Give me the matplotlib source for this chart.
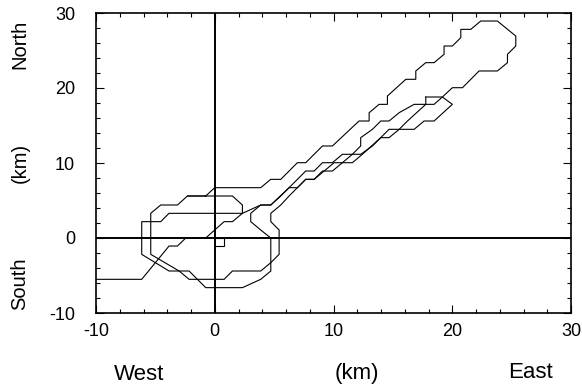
import matplotlib
matplotlib.use("Agg")
import matplotlib.pyplot as plt
from matplotlib.ticker import MultipleLocator

plt.rcParams['axes.unicode_minus'] = False

# ---- data (km) ----
# big contour: upper arm edge, tip, and lower arm edge down into the blob
c1_x = [-0.76, 0.0, 3.87, 4.71, 5.56, 6.96, 7.66, 9.07, 9.91, 12.15, 13.0, 13.0, 13.84, 14.54, 14.54,
        16.09, 16.93, 16.93, 17.77, 18.47, 19.31, 19.31, 20.01, 20.72, 20.72, 21.56, 22.4, 23.8,
        25.35, 25.35, 24.65, 24.65, 23.8, 22.26, 20.86, 20.01, 19.17,
        18.47, 16.79, 15.53, 14.68, 13.98, 13.28, 12.29, 12.29, 11.59, 10.75, 9.91, 9.07, 8.37,
        7.66, 6.96, 6.26, 5.56, 4.72, 3.87, 3.03, 3.03, 3.87, 4.72, 4.72, 3.87, 1.49, 0.79,
        -1.46, -2.16, -3.0, -5.39, -5.39, -4.55, -4.55, -3.14, -2.3, -0.76]
c1_y = [5.6, 6.71, 6.71, 7.82, 7.82, 10.04, 10.04, 12.27, 12.27, 15.6, 15.6, 16.7, 17.82, 17.82, 18.93,
        21.16, 21.16, 22.27, 23.38, 23.38, 24.49, 25.6, 25.6, 26.71, 27.82, 27.82, 28.93, 28.93,
        26.93, 25.6, 24.49, 23.38, 22.27, 22.27, 20.04, 20.04, 18.8,
        17.82, 17.82, 16.71, 15.6, 15.6, 14.49, 13.38, 12.27, 11.16, 11.16, 10.04, 10.04, 8.93,
        8.93, 7.82, 6.71, 5.6, 4.4, 4.4, 3.29, 2.18, 1.07, 0.0, -3.29, -4.4, -4.4, -5.51,
        -5.51, -4.4, -4.4, -2.18, 3.29, 4.4, 4.4, 4.4, 5.6, 5.6]

# medium contour: small tip box, lower arm edge and the outer blob ring
c2_x = [17.77, 19.17, 20.01, 18.47, 17.63, 16.79, 15.53, 14.68, 13.98, 12.43, 11.59, 10.75, 9.91,
        9.07, 8.37, 7.66, 6.96, 6.26, 5.56, 4.72, 4.72, 5.42, 5.42, 4.72, 4.72, 3.87, 2.33,
        -0.76, -1.46, -2.16, -3.0, -3.85, -6.15, -6.15, -4.55, -3.85, 2.33, 2.33, 1.49, -2.3]
c2_y = [18.8, 18.8, 17.82, 15.6, 15.6, 14.49, 14.49, 13.38, 13.38, 11.16, 10.04, 10.04, 8.93,
        8.93, 7.82, 7.82, 6.71, 5.6, 4.4, 3.29, 2.18, 1.07, -2.18, -3.29, -4.4, -5.51, -6.62,
        -6.62, -5.51, -5.51, -4.4, -4.4, -2.18, 2.18, 2.18, 3.29, 3.29, 4.4, 5.6, 5.6]

# contour entering from the west edge and running up the arm
c3_x = [-10.0, -6.15, -3.85, -3.14, -2.44, -0.76, 0.0, 0.79, 1.49, 2.33, 3.87, 4.72, 6.26, 6.96,
        7.66, 8.37, 10.05, 10.75, 11.59, 12.29, 13.28, 14.68, 15.53, 16.23, 17.77, 17.77]
c3_y = [-5.51, -5.51, -1.07, -1.07, 0.0, 0.0, 1.07, 2.18, 2.18, 3.29, 4.4, 4.4, 6.71, 6.71,
        7.82, 7.82, 10.04, 10.04, 11.16, 11.16, 12.27, 14.49, 14.49, 15.6, 17.82, 18.8]

# small notch just east of the origin
c4_x = [0.0, 0.79, 0.79, 0.0]
c4_y = [0.0, 0.0, -1.07, -1.07]

xticks = [-10, 0, 10, 20, 30]
yticks = [-10, 0, 10, 20, 30]

fig = plt.figure(figsize=(5.82, 3.88), dpi=100)
ax = fig.add_axes([96/582, 75/388, 475/582, 300/388])
ax.set_xlim(-10, 30)
ax.set_ylim(-10, 30)

lw = 0.8
for xs, ys in [(c1_x, c1_y), (c2_x, c2_y), (c3_x, c3_y), (c4_x, c4_y)]:
    ax.plot(xs, ys, color="black", lw=lw, solid_joinstyle="miter")

ax.axhline(0, color="black", lw=1.4)
ax.axvline(0, color="black", lw=1.4)

ax.set_xticks(xticks)
ax.set_yticks(yticks)
ax.xaxis.set_minor_locator(MultipleLocator(2))
ax.yaxis.set_minor_locator(MultipleLocator(2))
ax.tick_params(which="both", direction="in", top=True, right=True, width=0.8)
ax.tick_params(which="major", length=6, labelsize=13)
ax.tick_params(which="minor", length=3)
ax.tick_params(axis="x", which="major", pad=7)
ax.tick_params(axis="y", which="major", pad=15)
for s in ax.spines.values():
    s.set_linewidth(1.2)

ff = "Liberation Sans"
for lab in ax.get_xticklabels() + ax.get_yticklabels():
    lab.set_fontfamily(ff)

fig.text(139/582, 1 - 374/388, "West", fontsize=16, family=ff, ha="center", va="center")
fig.text(357/582, 1 - 374/388, "(km)", fontsize=16, family=ff, ha="center", va="center")
fig.text(531/582, 1 - 372/388, "East", fontsize=16, family=ff, ha="center", va="center")
fig.text(20/582, 1 - 44/388, "North", fontsize=14.5, family=ff, ha="center", va="center", rotation=90)
fig.text(20/582, 1 - 163/388, "(km)", fontsize=14.5, family=ff, ha="center", va="center", rotation=90)
fig.text(20/582, 1 - 284/388, "South", fontsize=14.5, family=ff, ha="center", va="center", rotation=90)

fig.savefig("out.png", dpi=100)
